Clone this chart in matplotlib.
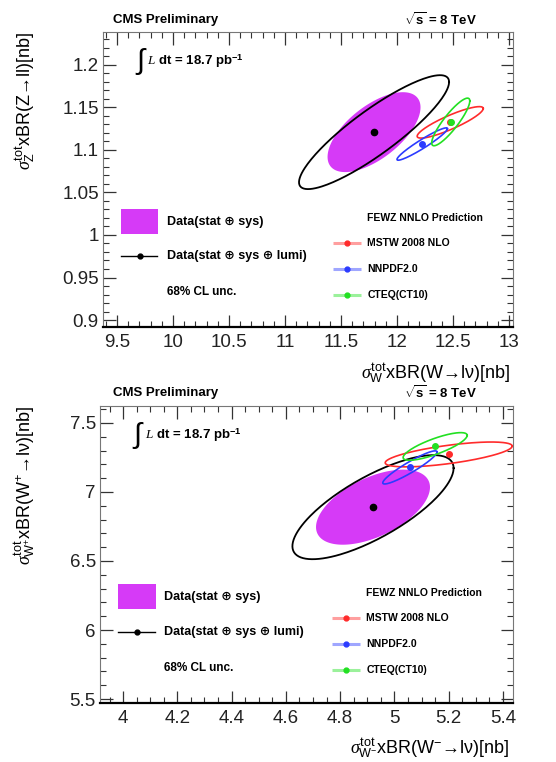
import numpy as np
import matplotlib
matplotlib.use('Agg')
import matplotlib.pyplot as plt
from matplotlib.patches import Rectangle
from matplotlib.ticker import MultipleLocator

plt.rcParams['font.family'] = ['Liberation Sans', 'DejaVu Sans']
plt.rcParams['mathtext.fontset'] = 'custom'
plt.rcParams['mathtext.rm'] = 'Liberation Sans'
plt.rcParams['mathtext.it'] = 'Liberation Serif:italic'
plt.rcParams['mathtext.bf'] = 'Liberation Sans:bold'

# ellipse parameters: centre x, centre y, half width x, half width y, correlation
# W vs Z panel
wz_stat_sys = [11.795, 1.121, 0.415, 0.047, 0.62]
wz_total = [11.795, 1.121, 0.67, 0.067, 0.88]
wz_mstw = [12.475, 1.1325, 0.295, 0.0185, 0.88]
wz_nnpdf = [12.225, 1.107, 0.225, 0.019, 0.95]
wz_ct10 = [12.48, 1.133, 0.17, 0.028, 0.88]

# W- vs W+ panel
wpm_stat_sys = [4.921, 6.89, 0.21, 0.272, 0.53]
wpm_total = [4.921, 6.89, 0.297, 0.377, 0.75]
wpm_mstw = [5.20, 7.272, 0.234, 0.09, 0.67]
wpm_nnpdf = [5.057, 7.178, 0.10, 0.12, 0.93]
wpm_ct10 = [5.15, 7.33, 0.118, 0.10, 0.80]

pdf_names = ['MSTW 2008 NLO', 'NNPDF2.0', 'CTEQ(CT10)']
pdf_colors = ['#ff2b2b', '#2b3bff', '#22e022']
magenta = '#d63af7'


def ellipse_xy(p, n=200):
    cx, cy, sx, sy, rho = p
    t = np.linspace(0, 2 * np.pi, n)
    x = cx + sx * np.cos(t)
    y = cy + sy * (rho * np.cos(t) + np.sqrt(1 - rho ** 2) * np.sin(t))
    return x, y


def style_axes(ax, xlim, ylim, xmaj, xmin, ymaj, ymin):
    ax.set_xlim(*xlim)
    ax.set_ylim(*ylim)
    ax.xaxis.set_major_locator(MultipleLocator(xmaj))
    ax.xaxis.set_minor_locator(MultipleLocator(xmin))
    ax.yaxis.set_major_locator(MultipleLocator(ymaj))
    ax.yaxis.set_minor_locator(MultipleLocator(ymin))
    ax.tick_params(which='both', direction='in', top=True, right=True,
                   color='#333333', labelsize=13.5, labelcolor='#222222')
    ax.tick_params(which='major', length=9, width=0.9)
    ax.tick_params(which='minor', length=4.5, width=0.8)
    ax.tick_params(axis='x', pad=5)
    ax.tick_params(axis='y', pad=3)
    for s in ['top', 'left', 'right']:
        ax.spines[s].set_color('#777777')
        ax.spines[s].set_linewidth(0.8)
    ax.spines['bottom'].set_color('black')
    ax.spines['bottom'].set_linewidth(1.6)
    ax.xaxis.set_major_formatter(plt.FuncFormatter(lambda v, p: f'{v:g}'))
    ax.yaxis.set_major_formatter(plt.FuncFormatter(lambda v, p: f'{v:g}'))


def draw_panel(ax, stat_sys, total, preds):
    x, y = ellipse_xy(stat_sys)
    ax.fill(x, y, color=magenta, lw=0, zorder=2)
    x, y = ellipse_xy(total)
    ax.plot(x, y, color='black', lw=1.3, zorder=3)
    for p, c in zip(preds, pdf_colors):
        x, y = ellipse_xy(p)
        ax.plot(x, y, color=c, lw=1.2, zorder=4)
    for p, c in zip(preds, pdf_colors):
        ax.plot(p[0], p[1], 'o', color=c, ms=4, zorder=5)
    ax.plot(total[0], total[1], 'o', color='black', ms=4.5, zorder=6)

    # luminosity label
    ax.text(0.078, 0.9, r'$\int$', transform=ax.transAxes, fontsize=21,
            va='center', ha='left')
    ax.text(0.108, 0.9, r'$\mathit{L}$ $\mathbf{dt}$ = 18.7 pb$^{\mathbf{-1}}$',
            transform=ax.transAxes, fontsize=9.5, fontweight='bold',
            va='center', ha='left')

    # data legend
    ax.add_patch(Rectangle((0.043, 0.315), 0.092, 0.085, transform=ax.transAxes,
                           color=magenta, lw=0))
    ax.text(0.155, 0.357, 'Data(stat ⊕ sys)', transform=ax.transAxes,
            fontsize=9, fontweight='bold', va='center')
    ax.plot([0.044, 0.132], [0.24, 0.24], color='black', lw=1,
            transform=ax.transAxes)
    ax.plot([0.09], [0.24], 'o', color='black', ms=3.5, transform=ax.transAxes)
    ax.text(0.155, 0.24, 'Data(stat ⊕ sys ⊕ lumi)', transform=ax.transAxes,
            fontsize=9, fontweight='bold', va='center')
    ax.text(0.155, 0.118, '68% CL unc.', transform=ax.transAxes,
            fontsize=8.5, fontweight='bold', va='center')

    # prediction legend
    ax.text(0.645, 0.37, 'FEWZ NNLO Prediction', transform=ax.transAxes,
            fontsize=7.5, fontweight='bold', va='center')
    for i, (name, c) in enumerate(zip(pdf_names, pdf_colors)):
        yy = 0.286 - i * 0.088
        ax.plot([0.561, 0.629], [yy, yy], color=c, lw=2.2, alpha=0.45,
                transform=ax.transAxes, solid_capstyle='butt')
        ax.plot([0.595], [yy], 'o', color=c, ms=3.5, transform=ax.transAxes)
        ax.text(0.645, yy, name, transform=ax.transAxes,
                fontsize=7.5, fontweight='bold', va='center')


fig = plt.figure(figsize=(5.56, 7.62), dpi=100)
ax1 = fig.add_axes([0.1853, 0.5709, 0.7374, 0.3871])
ax2 = fig.add_axes([0.1799, 0.0774, 0.7428, 0.3898])

draw_panel(ax1, wz_stat_sys, wz_total, [wz_mstw, wz_nnpdf, wz_ct10])
style_axes(ax1, (9.375, 13.036), (0.8918, 1.2388), 0.5, 0.1, 0.05, 0.01)

draw_panel(ax2, wpm_stat_sys, wpm_total, [wpm_mstw, wpm_nnpdf, wpm_ct10])
style_axes(ax2, (3.915, 5.437), (5.471, 7.623), 0.2, 0.05, 0.5, 0.1)

# headers
for ytop in [20, 393]:
    fig.text(113 / 556, 1 - ytop / 762, 'CMS Preliminary', fontsize=9.5,
             fontweight='bold', va='center', ha='left')
    fig.text(404 / 556, 1 - ytop / 762, r'$\sqrt{\mathbf{s}}$ = 8 TeV', fontsize=9.5,
             fontweight='bold', va='center', ha='left')

# axis titles
fig.text(25 / 556, 1 - 32 / 762, r'$\sigma^{\mathrm{tot}}_{\mathrm{Z}}$xBR(Z→ll)[nb]',
         rotation=90, fontsize=13, ha='center', va='top')
fig.text(510 / 556, 1 - 373 / 762, r'$\sigma^{\mathrm{tot}}_{\mathrm{W}}$xBR(W→lν)[nb]',
         fontsize=13, ha='right', va='center')
fig.text(25 / 556, 1 - 405 / 762,
         r'$\sigma^{\mathrm{tot}}_{\mathrm{W}^{+}}$xBR(W$^{+}$→lν)[nb]',
         rotation=90, fontsize=13, ha='center', va='top')
fig.text(510 / 556, 1 - 748 / 762,
         r'$\sigma^{\mathrm{tot}}_{\mathrm{W}^{-}}$xBR(W$^{-}$→lν)[nb]',
         fontsize=13, ha='right', va='center')

fig.savefig('out.png', dpi=100)
